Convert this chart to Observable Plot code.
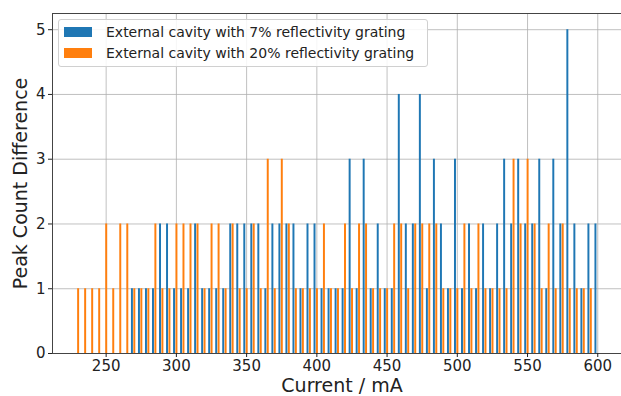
<!DOCTYPE html>
<html><head><meta charset="utf-8">
<script src="https://cdn.jsdelivr.net/npm/d3@7"></script>
<script src="https://cdn.jsdelivr.net/npm/@observablehq/plot@0.6"></script>
<style>
body{margin:0;background:#fff;}
#wrap{position:relative;width:621px;height:396px;font-family:"DejaVu Sans",sans-serif;overflow:hidden;}
#legend{position:absolute;left:58px;top:19px;width:370px;height:48px;border:1px solid #d0d0d0;border-radius:3px;background:rgba(255,255,255,0.85);font-size:14px;color:#222;box-sizing:border-box;}
.row{position:absolute;left:5px;height:16px;display:flex;align-items:center;white-space:nowrap;}
.sw{width:28px;height:10px;margin-right:14px;flex:none;}
</style></head>
<body><div id="wrap"></div>
<script>
const blueLabel = "External cavity with 7% reflectivity grating";
const orangeLabel = "External cavity with 20% reflectivity grating";
const blueColor = "#1f77b4", orangeColor = "#ff7f0e";

const blueCurrent = [270,275,280,285,290,295,300,305,310,315,320,325,330,335,340,345,350,355,360,365,370,375,380,385,390,395,400,405,410,415,420,425,430,435,440,445,450,455,460,465,470,475,480,485,490,495,500,505,510,515,520,525,530,535,540,545,550,555,560,565,570,575,580,585,590,595,600];
const blueCount = [1,1,1,1,2, 2,1,1,1,2, 1,1,1,1,2, 2,2,2,2,1, 2,2,2,2,1, 2,2,1,1,1, 1,3,1,3,1, 2,1,1,4,2, 2,4,1,3,2, 1,3,1,2,1, 2,1,2,3,2, 3,2,2,3,1, 3,2,5,2,1, 2,2];

const orangeCurrent = [230,235,240,245,250,255,260,265,270,275,280,285,290,295,300,305,310,315,320,325,330,335,340,345,350,355,360,365,370,375,380,385,390,395,400,405,410,415,420,425,430,435,440,445,450,455,460,465,470,475,480,485,490,495,500,505,510,515,520,525,530,535,540,545,550,555,560,565,570,575,580,585,590,595];
const orangeCount = [1,1,1,1,2, 1,2,2,1,1, 1,2,1,1,2, 2,2,2,1,2, 2,1,2,1,1, 2,1,3,1,3, 2,1,1,1,1, 2,1,1,2,1, 2,2,1,1,1, 2,2,1,2,2, 2,2,1,1,1, 2,1,2,1,1, 1,1,3,2,3, 2,1,2,1,2, 1,1,1,1];

const xTicks = [250,300,350,400,450,500,550,600];
const yTicks = [0,1,2,3,4,5];

const blue = blueCurrent.map((c,i)=>({c, v: blueCount[i]}));
const orange = orangeCurrent.map((c,i)=>({c, v: orangeCount[i]}));

const chart = Plot.plot({
  width: 621, height: 396,
  marginLeft: 52, marginRight: 0, marginTop: 13, marginBottom: 43,
  style: {fontFamily: "DejaVu Sans, sans-serif", fontSize: "15px", color: "#222", background: "#fff", overflow: "hidden"},
  x: {domain: [211.8, 616.9]},
  y: {domain: [0, 5.25]},
  marks: [
    Plot.gridX(xTicks, {stroke: "#b0b0b0", strokeOpacity: 1, strokeWidth: 0.8}),
    Plot.gridY(yTicks, {stroke: "#b0b0b0", strokeOpacity: 1, strokeWidth: 0.8}),
    Plot.rectY(blue, {x1: d => d.c - 2.0, x2: d => d.c - 0.6, y: "v", fill: blueColor}),
    Plot.rectY(orange, {x1: d => d.c - 0.3, x2: d => d.c + 1.1, y: "v", fill: orangeColor}),
    Plot.ruleY([0], {stroke: "#444", strokeWidth: 1}),
    Plot.ruleY([5.25], {stroke: "#444", strokeWidth: 1}),
    Plot.ruleX([211.8], {stroke: "#444", strokeWidth: 1}),
    Plot.axisX(xTicks, {tickSize: 4, tickPadding: 3, label: null, fontSize: 15, tickFormat: d => String(d)}),
    Plot.axisY(yTicks, {tickSize: 4, tickPadding: 3, label: null, fontSize: 15, tickFormat: d => String(d)}),
    Plot.text(["Current / mA"], {frameAnchor: "bottom", textAnchor: "middle", lineAnchor: "middle", dx: 5, dy: 32, fontSize: 19, fill: "#222"}),
    Plot.text(["Peak Count Difference"], {frameAnchor: "left", textAnchor: "middle", lineAnchor: "middle", dx: -32, rotate: -90, fontSize: 19, fill: "#222"})
  ]
});
const wrap = document.getElementById("wrap");
wrap.appendChild(chart);

const legend = document.createElement("div");
legend.id = "legend";
[[blueColor, blueLabel, 4], [orangeColor, orangeLabel, 25]].forEach(([col, lab, top]) => {
  const r = document.createElement("div");
  r.className = "row"; r.style.top = top + "px";
  const s = document.createElement("div"); s.className = "sw"; s.style.background = col;
  const t = document.createElement("span"); t.textContent = lab;
  r.appendChild(s); r.appendChild(t); legend.appendChild(r);
});
wrap.appendChild(legend);
</script>
</body></html>
